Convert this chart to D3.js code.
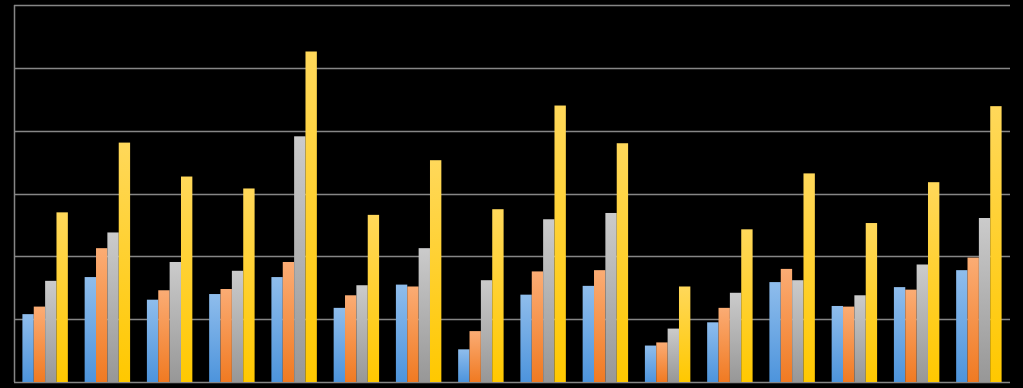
<!DOCTYPE html>
<html>
<head>
  <script src="https://d3js.org/d3.v7.min.js"></script>
  <style>
    body { margin: 0; background: #000; }
  </style>
</head>
<body>
<script>
// 16 groups, 4 series each (values in gridline units)
var groups = d3.range(1, 17);
var seriesA = [1.08, 1.67, 1.31, 1.40, 1.67, 1.18, 1.55, 0.52, 1.39, 1.53, 0.58, 0.95, 1.59, 1.21, 1.51, 1.78];
var seriesB = [1.20, 2.13, 1.46, 1.48, 1.91, 1.38, 1.52, 0.81, 1.76, 1.78, 0.63, 1.18, 1.80, 1.20, 1.47, 1.98];
var seriesC = [1.61, 2.38, 1.91, 1.77, 3.91, 1.54, 2.13, 1.62, 2.59, 2.69, 0.85, 1.42, 1.62, 1.38, 1.87, 2.61];
var seriesD = [2.70, 3.81, 3.27, 3.08, 5.26, 2.66, 3.53, 2.75, 4.40, 3.80, 1.52, 2.43, 3.32, 2.53, 3.18, 4.39];
var yTicks = [0, 1, 2, 3, 4, 5, 6];

var series = [
  {name: 'a', values: seriesA, top: '#8fbdec', bottom: '#4d94dc'},
  {name: 'b', values: seriesB, top: '#fbac74', bottom: '#f07a22'},
  {name: 'c', values: seriesC, top: '#cbcbcb', bottom: '#979797'},
  {name: 'd', values: seriesD, top: '#ffd85a', bottom: '#ffc800'}
];

var width = 1023, height = 388;
var mLeft = 14, mRight = 1010, mTop = 5, mBottom = 382;

var svg = d3.select('body').append('svg')
  .attr('width', width)
  .attr('height', height)
  .style('display', 'block')
  .style('background', '#000');

var defs = svg.append('defs');
series.forEach(function(s) {
  var g = defs.append('linearGradient')
    .attr('id', 'grad-' + s.name)
    .attr('x1', 0).attr('y1', 0).attr('x2', 0).attr('y2', 1);
  g.append('stop').attr('offset', '0%').attr('stop-color', s.top);
  g.append('stop').attr('offset', '100%').attr('stop-color', s.bottom);
});

var x0 = d3.scaleBand().domain(groups).range([mLeft, mRight]).paddingInner(0.27).paddingOuter(0.135);
var x1 = d3.scaleBand().domain(series.map(function(s) { return s.name; })).range([0, x0.bandwidth()]);
var y = d3.scaleLinear().domain([0, 6]).range([mBottom, mTop]);

// gridlines
svg.append('g')
  .selectAll('line')
  .data(yTicks)
  .enter()
  .append('line')
  .attr('x1', mLeft)
  .attr('x2', mRight)
  .attr('y1', function(d) { return Math.round(y(d)) + 0.5; })
  .attr('y2', function(d) { return Math.round(y(d)) + 0.5; })
  .attr('stroke', '#868686')
  .attr('stroke-width', 1.5);

// left axis line
svg.append('line')
  .attr('x1', mLeft + 0.5).attr('x2', mLeft + 0.5)
  .attr('y1', mTop).attr('y2', mBottom)
  .attr('stroke', '#868686')
  .attr('stroke-width', 1.5);

// bars
var grp = svg.append('g')
  .selectAll('g')
  .data(groups)
  .enter()
  .append('g')
  .attr('transform', function(d) { return 'translate(' + x0(d) + ',0)'; });

grp.selectAll('rect')
  .data(function(d, i) {
    return series.map(function(s) { return {name: s.name, value: s.values[i]}; });
  })
  .enter()
  .append('rect')
  .attr('x', function(d) { return x1(d.name); })
  .attr('width', x1.bandwidth())
  .attr('y', function(d) { return y(d.value); })
  .attr('height', function(d) { return y(0) - y(d.value); })
  .attr('fill', function(d) { return 'url(#grad-' + d.name + ')'; });
</script>
</body>
</html>
